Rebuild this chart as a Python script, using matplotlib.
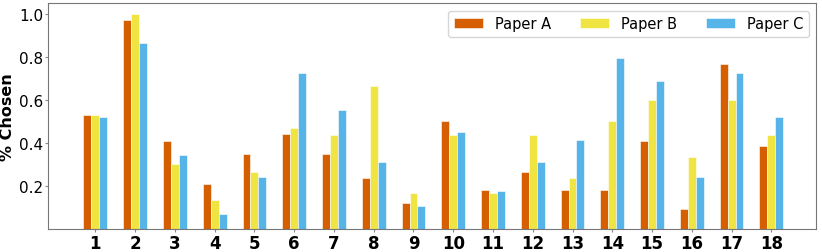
import matplotlib
matplotlib.use("Agg")
import matplotlib.pyplot as plt
import numpy as np

questions = [str(i) for i in range(1, 19)]
paper_a = [0.53, 0.97, 0.41, 0.21, 0.35, 0.44, 0.35, 0.235, 0.12, 0.50,
           0.18, 0.265, 0.18, 0.18, 0.41, 0.09, 0.765, 0.385]
paper_b = [0.53, 1.00, 0.30, 0.135, 0.265, 0.47, 0.435, 0.665, 0.165, 0.435,
           0.165, 0.435, 0.235, 0.50, 0.60, 0.335, 0.60, 0.435]
paper_c = [0.52, 0.865, 0.345, 0.07, 0.24, 0.725, 0.555, 0.31, 0.105, 0.45,
           0.175, 0.31, 0.415, 0.795, 0.69, 0.24, 0.725, 0.52]
series = [("Paper A", paper_a, "#D55E00"),
          ("Paper B", paper_b, "#F0E442"),
          ("Paper C", paper_c, "#56B4E9")]

fig, ax = plt.subplots(figsize=(8.22, 2.53), dpi=100)
x = np.arange(1, len(questions) + 1)
w = 0.2
for i, (name, vals, col) in enumerate(series):
    ax.bar(x + (i - 1) * w, vals, w, color=col, label=name,
           edgecolor="white", linewidth=0.4)

ax.set_xticks(x)
ax.set_xticklabels(questions, fontsize=12, fontweight="bold")
ax.set_yticks([0.2, 0.4, 0.6, 0.8, 1.0])
ax.tick_params(axis="y", labelsize=11, length=2, pad=2, color="#888888")
ax.tick_params(axis="x", length=2, pad=1.5, color="#888888")
ax.set_ylabel("% Chosen", fontsize=11.5, fontweight="bold")
ax.yaxis.set_label_coords(-0.043, 0.5)
ax.set_xlim(1 - 1.18, 18 + 1.13)
ax.set_ylim(0, 1.05)
for s in ax.spines.values():
    s.set_color("#777777")
ax.legend(ncol=3, loc="upper right", fontsize=10.5)
fig.subplots_adjust(left=0.059, right=0.993, top=0.983, bottom=0.092)
fig.savefig("out.png")
